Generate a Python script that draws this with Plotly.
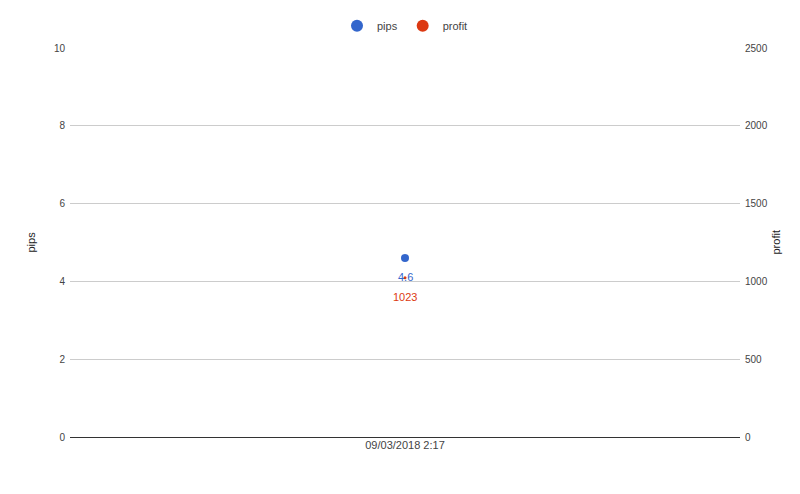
import plotly.graph_objects as go

# data
dates = ["09/03/2018 2:17"]
pips = [4.6]
profit = [1023]

blue = "#3366cc"
red = "#dc3912"
tick_font = dict(family="Arial", size=10, color="#444")

fig = go.Figure()

fig.add_trace(go.Scatter(
    x=dates, y=pips, name="pips", mode="markers",
    marker=dict(color=blue, size=8), cliponaxis=False,
))
fig.add_trace(go.Scatter(
    x=dates, y=profit, name="profit", mode="markers", yaxis="y2",
    marker=dict(color=red, size=3), cliponaxis=False,
))

# value labels under each point
for d, v in zip(dates, pips):
    fig.add_annotation(x=d, y=v, yref="y", text=str(v), showarrow=False,
                       yshift=-19, font=dict(family="Arial", size=11, color=blue))
for d, v in zip(dates, profit):
    fig.add_annotation(x=d, y=v, yref="y2", text=str(v), showarrow=False,
                       yshift=-19, font=dict(family="Arial", size=11, color=red))

# axis titles
fig.add_annotation(x=0, xref="paper", xanchor="center", y=0.5, yref="paper", text="pips",
                   textangle=-90, showarrow=False, xshift=-40,
                   font=dict(family="Arial", size=11, color="#222"))
fig.add_annotation(x=1, xref="paper", xanchor="center", y=0.5, yref="paper", text="profit",
                   textangle=-90, showarrow=False, xshift=35,
                   font=dict(family="Arial", size=11, color="#222"))

# page body adds 8px, so margins are offset by that
fig.update_layout(
    width=800, height=494,
    margin=dict(l=62, r=68, t=40, b=65, autoexpand=False),
    paper_bgcolor="white", plot_bgcolor="white",
    font=dict(family="Arial", color="#444"),
    showlegend=True,
    legend=dict(orientation="h", x=0.5, xanchor="center", y=1.057, yanchor="middle",
                itemsizing="constant", itemwidth=30,
                font=dict(family="Arial", size=11, color="#444")),
    xaxis=dict(type="category", showgrid=False, showline=False, zeroline=False,
               tickfont=dict(family="Arial", size=11, color="#444"), ticks="", automargin=False),
    yaxis=dict(range=[0, 10], dtick=2, gridcolor="#cccccc", zeroline=True, automargin=False,
               zerolinecolor="#333", zerolinewidth=1, tickfont=tick_font, ticks="", ticklabelstandoff=4),
    yaxis2=dict(overlaying="y", side="right", range=[0, 2500], dtick=500, showgrid=False,
                zeroline=False, tickfont=tick_font, ticks="", ticklabelstandoff=4, automargin=False),
)

fig.write_html("out.html")
